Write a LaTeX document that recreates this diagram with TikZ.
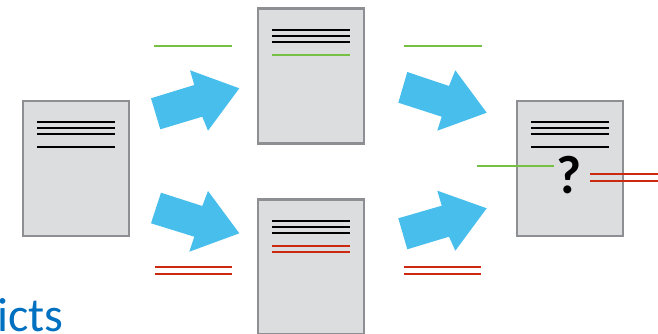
\documentclass[tikz,border=0pt]{standalone}
\usepackage{fontspec}
\setmainfont{Carlito}
\usetikzlibrary{calc}
\definecolor{docfill}{HTML}{DCDDDF}
\definecolor{docedge}{HTML}{8E8F92}
\definecolor{arrowblue}{HTML}{48BEEC}
\definecolor{okgreen}{HTML}{76C043}
\definecolor{badred}{HTML}{CC2A10}
\definecolor{titleblue}{HTML}{0070C0}
\begin{document}
\begin{tikzpicture}[x=1pt,y=-1pt,
  doc/.style={draw=docedge,fill=docfill,line width=2.2pt,minimum width=106pt,minimum height=135pt,inner sep=0pt,outer sep=0pt},
  txt/.style={line width=2pt,black},
  gline/.style={line width=1.9pt,okgreen},
  rline/.style={line width=1.9pt,badred},
  blockarrow/.style={fill=arrowblue}]
\clip (0,0) rectangle (658,334);
\fill[white] (0,0) rectangle (658,334);
% documents
\node[doc] (src) at (76,168.5) {};
\node[doc] (top) at (311,76) {};
\node[doc] (bot) at (311,267) {};
\node[doc] (res) at (570,168.5) {};
\foreach \d in {src,top,bot,res} {
  \foreach \yy in {21.3,27.3,33.3}
    \draw[txt] ([shift={(14,\yy)}]\d.north west) -- ([shift={(92,\yy)}]\d.north west);
}
\foreach \d in {src,res}
  \draw[txt] ([shift={(14,45.7)}]\d.north west) -- ([shift={(92,45.7)}]\d.north west);
\draw[gline] ([shift={(14,46.3)}]top.north west) -- ([shift={(92,46.3)}]top.north west);
\foreach \yy in {46.7,52.7}
  \draw[rline] ([shift={(14,\yy)}]bot.north west) -- ([shift={(92,\yy)}]bot.north west);
% block arrows
\fill[blockarrow] (151,98.3) -- (194.3,85) -- (190,70.3) -- (239.3,88.3) -- (208,130.7) -- (202.3,116.7) -- (160.3,129.3) -- cycle;
\fill[blockarrow] (161,192.7) -- (202.3,206) -- (208,191) -- (239.3,233.3) -- (189.3,251.7) -- (194.3,236.7) -- (151,223.3) -- cycle;
\fill[blockarrow] (407.3,72) -- (449,86) -- (455.3,70.3) -- (486.7,112.7) -- (437.3,130.7) -- (441.7,116.7) -- (398.3,102.7) -- cycle;
\fill[blockarrow] (398.3,218.3) -- (441.7,205.7) -- (437.3,190.7) -- (486.7,208.3) -- (455.3,250.7) -- (449,236.7) -- (407.3,249.3) -- cycle;
% change lines
\draw[gline] (154,46) -- (232,46);
\draw[gline] (404,46) -- (482,46);
\foreach \yy in {267.3,274.3} {
  \draw[rline] (155,\yy) -- (232,\yy);
  \draw[rline] (404,\yy) -- (481,\yy);
}
\draw[gline] (477,165.7) -- (554,165.7);
\foreach \yy in {174,181}
  \draw[rline] (590,\yy) -- (658,\yy);
\node[font=\fontsize{54}{54}\selectfont\bfseries,inner sep=0pt] (q) at (569.5,175.5) {?};
\node[font=\fontsize{48}{48}\selectfont,text=titleblue,anchor=base west,inner sep=0pt] (title) at (-3,331) {icts};
\end{tikzpicture}
\end{document}
